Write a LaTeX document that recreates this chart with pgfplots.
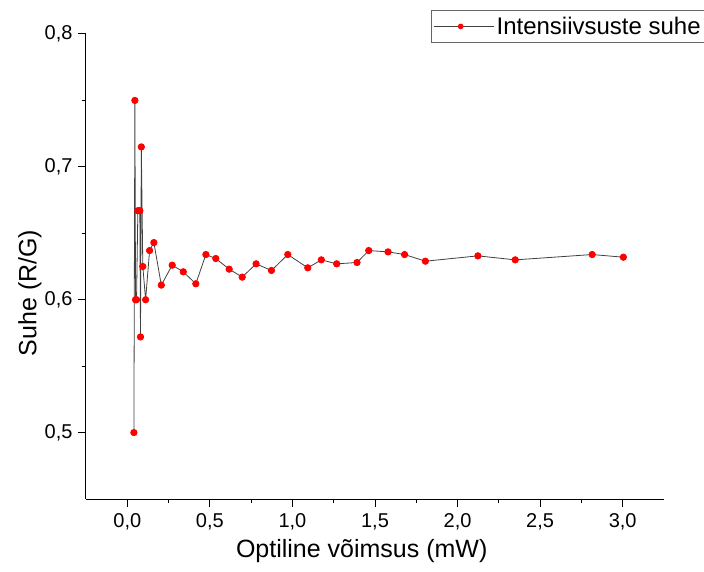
\documentclass[border=0pt]{standalone}
\usepackage{fontspec}
\setmainfont{Liberation Sans}
\usepackage{pgfplots}
\pgfplotsset{compat=1.18}
\begin{document}
\begin{tikzpicture}
\useasboundingbox (-86bp,-73bp) rectangle (618bp,499bp);
\begin{axis}[
  scale only axis, width=578bp, height=465bp,
  xmin=-0.25, xmax=3.25, ymin=0.45, ymax=0.8,
  axis x line*=bottom, axis y line*=left,
  axis line style={line width=1bp, black, -},
  xtick={0,0.5,1,1.5,2,2.5,3}, ytick={0.5,0.6,0.7,0.8},
  minor x tick num=1, minor y tick num=1,
  tick align=outside,
  major tick length=8bp, minor tick length=4bp,
  every tick/.style={line width=1bp, black},
  /pgf/number format/use comma,
  /pgf/number format/fixed,
  /pgf/number format/fixed zerofill,
  /pgf/number format/precision=1,
  /pgf/number format/assume math mode=true,
  ticklabel style={font=\fontsize{20bp}{24bp}\selectfont},
  xticklabel style={yshift=-3bp},
  yticklabel style={xshift=-2bp},
  xlabel={Optiline võimsus (mW)},
  ylabel={Suhe (R/G)},
  label style={font=\fontsize{25bp}{29bp}\selectfont},
  xlabel style={at={(axis description cs:0.477,-0.112)}, anchor=center},
  ylabel style={at={(axis description cs:-0.097,0.443)}, anchor=center, rotate=0},
  legend style={at={(axis description cs:0.5976,1.0525)}, anchor=north west,
    draw=black!60, line width=0.8bp, inner xsep=2bp, inner ysep=5bp,
    font=\fontsize{24bp}{28bp}\selectfont},
  legend image code/.code={%
    \path (0bp,0bp) -- (60bp,0bp);
    \draw[black!75, line width=0.8bp] (0bp,0bp) -- (53bp,0bp);
    \fill[red] (26.5bp,0bp) circle (2.4bp);},
]
\addplot[black!75, line width=0.8bp, mark=*, mark size=3.2bp,
  mark options={fill=red, draw=red, solid}] table {
x y
0.040 0.500
0.046 0.750
0.050 0.600
0.056 0.600
0.064 0.667
0.076 0.667
0.080 0.572
0.085 0.715
0.094 0.625
0.111 0.600
0.135 0.637
0.161 0.643
0.206 0.611
0.272 0.626
0.339 0.621
0.415 0.612
0.476 0.634
0.536 0.631
0.617 0.623
0.696 0.617
0.780 0.627
0.873 0.622
0.972 0.634
1.093 0.624
1.175 0.630
1.268 0.627
1.391 0.628
1.462 0.637
1.579 0.636
1.679 0.634
1.805 0.629
2.123 0.633
2.349 0.630
2.815 0.634
3.004 0.632
};
\addlegendentry{Intensiivsuste suhe}
\end{axis}
\end{tikzpicture}
\end{document}
